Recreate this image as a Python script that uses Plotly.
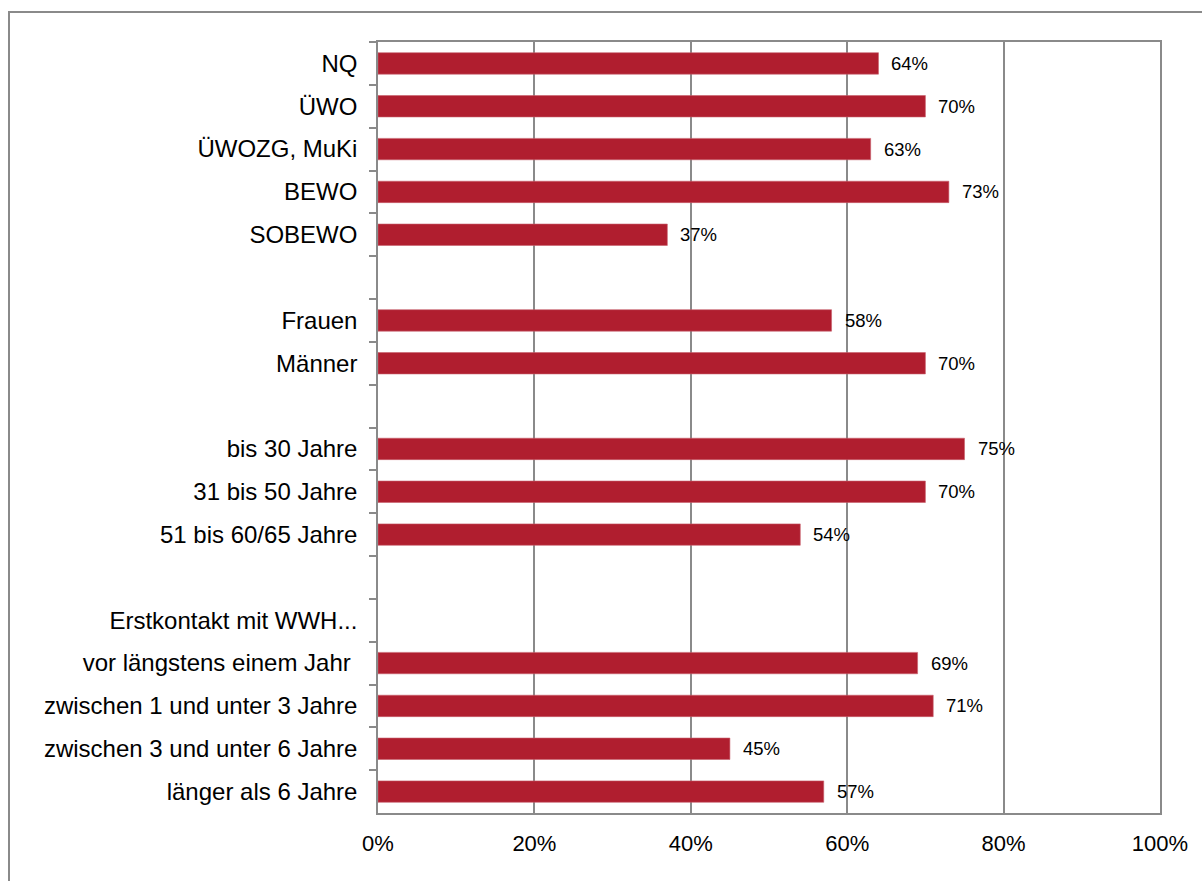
import plotly.graph_objects as go

categories = ["NQ", "ÜWO", "ÜWOZG, MuKi", "BEWO", "SOBEWO", " ",
              "Frauen", "Männer", "  ",
              "bis 30 Jahre", "31 bis 50 Jahre", "51 bis 60/65 Jahre", "   ",
              "Erstkontakt mit WWH...", "vor längstens einem Jahr\u00a0",
              "zwischen 1 und unter 3 Jahre", "zwischen 3 und unter 6 Jahre",
              "länger als 6 Jahre"]
values = [64, 70, 63, 73, 37, None,
          58, 70, None,
          75, 70, 54, None,
          None, 69, 71, 45, 57]
x_ticks = [0, 20, 40, 60, 80, 100]

BAR = "#B01E2F"
GRID = "#8a8a8a"
FONT = "Liberation Sans, Arial, sans-serif"

W, H = 1202, 881
ML, MR, MT, MB = 378, 42, 42, 68

fig = go.Figure()
fig.add_trace(go.Bar(
    y=categories, x=values, orientation="h",
    marker=dict(color=BAR, line=dict(color="#c8606b", width=0.6)),
    hoverinfo="skip",
))

for c, v in zip(categories, values):
    if v is None:
        continue
    fig.add_annotation(x=v, y=c, text=f"{v}%", showarrow=False,
                       xanchor="left", yanchor="middle", xshift=11,
                       font=dict(family=FONT, size=18.5, color="#000"))

pw = W - ML - MR
ph = H - MT - MB
def px2x(p):
    return (p - ML) / pw
def py2y(p):
    return (H - MB - p) / ph

fig.add_shape(type="rect", xref="paper", yref="paper",
              x0=px2x(9), x1=px2x(1215), y0=py2y(895), y1=py2y(12),
              line=dict(color=GRID, width=2), fillcolor="rgba(0,0,0,0)",
              layer="below")

fig.update_layout(
    width=W, height=H,
    margin=dict(l=ML, r=MR, t=MT, b=MB, pad=0),
    paper_bgcolor="white", plot_bgcolor="white",
    bargap=0.5, showlegend=False,
    font=dict(family=FONT, color="#000"),
)
fig.update_xaxes(
    range=[0, 100], tickvals=x_ticks, ticktext=[f"{t}%" for t in x_ticks],
    showgrid=True, gridcolor=GRID, gridwidth=1.5,
    showline=True, linecolor=GRID, linewidth=1.5, mirror=True,
    ticks="", tickfont=dict(size=22, family=FONT), ticklabelstandoff=10,
    zeroline=False, fixedrange=True,
)
fig.update_yaxes(
    type="category", categoryorder="array", categoryarray=categories,
    autorange="reversed",
    showline=True, linecolor=GRID, linewidth=1.5, mirror=True,
    ticks="outside", tickson="boundaries", ticklen=7, tickcolor=GRID, tickwidth=1.5,
    tickfont=dict(size=24, family=FONT), ticklabelstandoff=14,
    showgrid=False, zeroline=False, fixedrange=True,
)

fig.write_html("out.html")
